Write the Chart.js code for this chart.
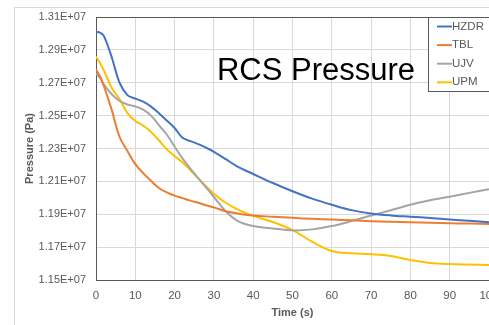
<!DOCTYPE html>
<html>
<head>
<meta charset="utf-8">
<script src="https://cdn.jsdelivr.net/npm/chart.js@4"></script>
<style>
  html, body { margin: 0; padding: 0; background: #fff; overflow: hidden; }
  #frame { position: absolute; left: 14px; top: 7px; width: 600px; height: 400px; border: 1px solid #d9d9d9; }
  #chart { position: absolute; left: 0; top: 0; }
</style>
</head>
<body>
<div id="frame"></div>
<canvas id="chart" width="520" height="325"></canvas>
<script>
// -------- data (pressure in 1E+07 Pa) --------
const times = [0, 1, 2, 4, 6, 8, 10, 12, 14, 16, 18, 20, 22, 24, 26, 28, 30, 33, 36, 40, 45, 50, 55, 60, 65, 70, 75, 80, 85, 90, 95, 100];
const hzdr = [1.3010, 1.3005, 1.2985, 1.2855, 1.2700, 1.2625, 1.2603, 1.2585, 1.2555, 1.2515, 1.2470, 1.2425, 1.2365, 1.2345, 1.2327, 1.2305, 1.2280, 1.2235, 1.2190, 1.2145, 1.2090, 1.2040, 1.1995, 1.1958, 1.1925, 1.1905, 1.1893, 1.1885, 1.1877, 1.1868, 1.1860, 1.1851];
const tbl  = [1.2780, 1.2740, 1.2680, 1.2535, 1.2370, 1.2285, 1.2205, 1.2150, 1.2103, 1.2060, 1.2033, 1.2013, 1.1998, 1.1983, 1.1970, 1.1955, 1.1942, 1.1918, 1.1905, 1.1892, 1.1885, 1.1878, 1.1872, 1.1868, 1.1863, 1.1858, 1.1855, 1.1852, 1.1849, 1.1846, 1.1843, 1.1841];
const ujv  = [1.2758, 1.2730, 1.2690, 1.2630, 1.2590, 1.2568, 1.2556, 1.2536, 1.2500, 1.2442, 1.2385, 1.2312, 1.2240, 1.2178, 1.2120, 1.2063, 1.2005, 1.1918, 1.1860, 1.1828, 1.1813, 1.1802, 1.1808, 1.1828, 1.1858, 1.1892, 1.1924, 1.1958, 1.1985, 1.2007, 1.2030, 1.2052];
const upm  = [1.2859, 1.2820, 1.2775, 1.2670, 1.2600, 1.2515, 1.2467, 1.2440, 1.2400, 1.2350, 1.2295, 1.2255, 1.2215, 1.2168, 1.2120, 1.2070, 1.2025, 1.1970, 1.1930, 1.1890, 1.1853, 1.1804, 1.1733, 1.1676, 1.1662, 1.1657, 1.1646, 1.1622, 1.1604, 1.1597, 1.1594, 1.1591];
const seriesNames = ["HZDR", "TBL", "UJV", "UPM"];
const seriesColors = ["#4472C4", "#ED7D31", "#A5A5A5", "#FFC000"];

const toPoints = (vals) => vals.map((v, i) => ({ x: times[i], y: v * 1e7 }));

// -------- plugins: title in plot + boxed legend --------
const plotTitle = {
  id: "plotTitle",
  afterDraw(chart) {
    const { ctx, chartArea } = chart;
    ctx.save();
    ctx.font = "31px 'Liberation Sans', Arial, sans-serif";
    ctx.fillStyle = "#000";
    ctx.textAlign = "center";
    ctx.textBaseline = "alphabetic";
    ctx.fillText("RCS Pressure", chartArea.left + 220, 80);
    ctx.restore();
  }
};

const boxLegend = {
  id: "boxLegend",
  afterDraw(chart) {
    const { ctx, chartArea } = chart;
    const x = chartArea.right - 61, y = chartArea.top, w = 70, h = 74;
    ctx.save();
    ctx.fillStyle = "#fff";
    ctx.fillRect(x, y, w, h);
    ctx.strokeStyle = "#595959";
    ctx.lineWidth = 1;
    ctx.strokeRect(x + 0.5, y + 0.5, w, h);
    ctx.font = "11.5px 'Liberation Sans', Arial, sans-serif";
    ctx.textBaseline = "middle";
    chart.data.datasets.forEach((ds, i) => {
      const cy = y + 9.5 + i * 18.6;
      ctx.strokeStyle = ds.borderColor;
      ctx.lineWidth = 2;
      ctx.beginPath();
      ctx.moveTo(x + 9, cy);
      ctx.lineTo(x + 24, cy);
      ctx.stroke();
      ctx.fillStyle = "#595959";
      ctx.fillText(ds.label, x + 24, cy);
    });
    ctx.restore();
  }
};

new Chart(document.getElementById("chart").getContext("2d"), {
  type: "line",
  data: {
    datasets: seriesNames.map((name, i) => ({
      label: name,
      data: toPoints([hzdr, tbl, ujv, upm][i]),
      borderColor: seriesColors[i],
      backgroundColor: seriesColors[i],
      borderWidth: 2,
      pointRadius: 0,
      tension: 0.35,
      fill: false
    }))
  },
  options: {
    responsive: false,
    animation: false,
    devicePixelRatio: 1,
    layout: { padding: { left: 16, top: 17, right: 31, bottom: 0 } },
    plugins: { legend: { display: false }, tooltip: { enabled: false }, title: { display: false } },
    scales: {
      x: {
        type: "linear",
        min: 0, max: 100,
        afterFit: (s) => { s.height = 45; },
        ticks: { stepSize: 10, padding: 9, color: "#595959", font: { family: "'Liberation Sans', Arial, sans-serif", size: 11.5 } },
        grid: { color: "#d9d9d9", drawTicks: false },
        border: { color: "#595959", width: 1 },
        title: { display: true, text: "Time (s)", color: "#595959", padding: { top: 0, bottom: 5 },
                 font: { family: "'Liberation Sans', Arial, sans-serif", size: 11, weight: "bold" } }
      },
      y: {
        min: 1.15e7, max: 1.31e7,
        afterFit: (s) => { s.width = 80; },
        ticks: {
          stepSize: 2e5, padding: 10, color: "#595959",
          font: { family: "'Liberation Sans', Arial, sans-serif", size: 11 },
          callback: (v) => (v / 1e7).toFixed(2) + "E+07"
        },
        grid: { drawTicks: false, color: (c) => (c.tick && Math.abs(c.tick.value - 1.31e7) < 1 ? "#595959" : "#d9d9d9") },
        border: { color: "#595959", width: 1 },
        title: { display: true, text: "Pressure (Pa)", color: "#595959", padding: { top: 7, bottom: 0 },
                 font: { family: "'Liberation Sans', Arial, sans-serif", size: 11, weight: "bold" } }
      }
    }
  },
  plugins: [plotTitle, boxLegend]
});
</script>
</body>
</html>
